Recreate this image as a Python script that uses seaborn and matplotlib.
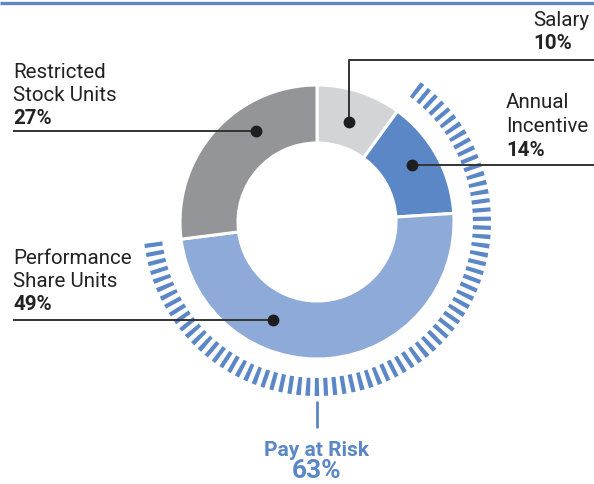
import matplotlib
matplotlib.use("Agg")
import matplotlib.pyplot as plt
from matplotlib.patches import Arc
import seaborn as sns

# Compensation mix
categories = ["Salary", "Annual Incentive", "Performance Share Units", "Restricted Stock Units"]
shares = [10, 14, 49, 27]
label_lines = [["Salary"], ["Annual", "Incentive"], ["Performance", "Share Units"], ["Restricted", "Stock Units"]]
at_risk = ["Annual Incentive", "Performance Share Units"]
at_risk_label = "Pay at Risk"

slice_colors = ["#d3d4d6", "#5b87c6", "#8eaad9", "#949598"]
accent = "#5b87c6"
ink = "#222222"

sns.set_theme(style="white")
plt.rcParams["font.family"] = ["Roboto", "DejaVu Sans"]
plt.rcParams["lines.scale_dashes"] = False

W, H = 594, 484
fig = plt.figure(figsize=(W / 100, H / 100), dpi=100)
ax = fig.add_axes([0, 0, 1, 1])
ax.set_xlim(0, W)
ax.set_ylim(0, H)
ax.set_aspect("equal")
ax.axis("off")


def Y(y):
    """Convert a top-down pixel row to the axes' upward y."""
    return H - y


cx, cy = 317, Y(222)
R_out, R_in = 137, 79

ax.pie(shares, colors=slice_colors, startangle=90, counterclock=False,
       radius=R_out, center=(cx, cy),
       wedgeprops=dict(width=R_out - R_in, edgecolor="white", linewidth=2.2))
ax.set_xlim(0, W)
ax.set_ylim(0, H)

# dashed ring over the at-risk slices
total = sum(shares)
idx = [categories.index(c) for c in at_risk]
before = sum(shares[: min(idx)])
risk_total = sum(shares[i] for i in idx)
theta_end = 90 - 360 * before / total
theta_start = theta_end - 360 * risk_total / total
r_ring = 165
ring = Arc((cx, cy), 2 * r_ring, 2 * r_ring, theta1=theta_start, theta2=theta_end,
           color=accent, linewidth=13, linestyle=(0, (3.0, 3.3)))
ring.set_capstyle("butt")
ax.add_patch(ring)

# stem and caption for pay at risk
ax.plot([cx, cx], [Y(401), Y(428)], color=accent, lw=2.0, solid_capstyle="butt")
ax.text(cx, Y(450), at_risk_label, ha="center", va="center", color=accent,
        fontsize=15, fontweight="bold")
ax.text(cx, Y(483), f"{risk_total}%", ha="center", va="bottom", color=accent,
        fontsize=19, fontweight="bold")

# top rule
ax.plot([0, W], [Y(2.5), Y(2.5)], color=accent, lw=2.4, solid_capstyle="butt")

# labels: (left x, first line row)
label_pos = {
    "Salary": (533, 20),
    "Annual Incentive": (506, 103),
    "Performance Share Units": (13, 258),
    "Restricted Stock Units": (13, 72),
}
step = 23.5
for cat, lines, val in zip(categories, label_lines, shares):
    x0, y0 = label_pos[cat]
    for k, t in enumerate(lines):
        ax.text(x0, Y(y0 + k * step), t, ha="left", va="center", color=ink, fontsize=14.8)
    ax.text(x0, Y(y0 + len(lines) * step), f"{val}%", ha="left", va="center",
            color=ink, fontsize=14.8, fontweight="bold")

# leader lines with anchor dots
line_kw = dict(color="#333333", lw=1.4, solid_capstyle="butt", zorder=5)
dot_kw = dict(marker="o", ms=7.5, color="#1e1e1e", zorder=6)
# Salary
ax.plot([349, 349, W], [Y(122), Y(60), Y(60)], **line_kw)
ax.plot([349], [Y(122)], **dot_kw)
# Annual Incentive
ax.plot([412, W], [Y(165), Y(165)], **line_kw)
ax.plot([412], [Y(165)], **dot_kw)
# Restricted Stock Units
ax.plot([13, 256], [Y(131), Y(131)], **line_kw)
ax.plot([256], [Y(131)], **dot_kw)
# Performance Share Units
ax.plot([13, 273], [Y(320), Y(320)], **line_kw)
ax.plot([273], [Y(320)], **dot_kw)

fig.savefig("out.png", dpi=100)
